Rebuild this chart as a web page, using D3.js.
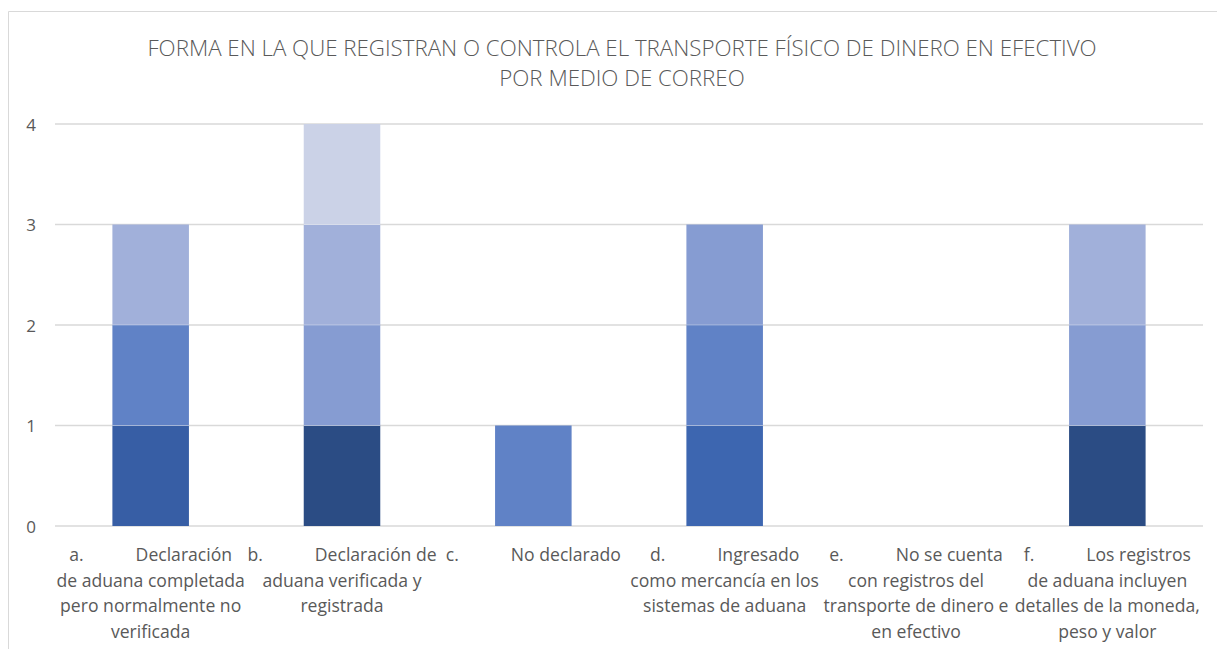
<!DOCTYPE html>
<html>
<head>
<meta charset="utf-8">
<script src="https://cdn.jsdelivr.net/npm/d3@7"></script>
<style>
html,body{margin:0;padding:0;background:#fff;}
svg{display:block;}
text{font-family:"Open Sans","Noto Sans",sans-serif;fill:#595959;}
</style>
</head>
<body>
<svg id="chart" width="1217" height="649"></svg>
<script>
const titleLines = ["FORMA EN LA QUE REGISTRAN O CONTROLA EL TRANSPORTE FÍSICO DE DINERO EN EFECTIVO", "POR MEDIO DE CORREO"];
const categories = ["a", "b", "c", "d", "e", "f"];
const categoryPrefixes = ["a.", "b.", "c.", "d.", "e.", "f."];
const categoryLines = [
  ["Declaración", "de aduana completada", "pero normalmente no", "verificada"],
  ["Declaración de", "aduana verificada y", "registrada"],
  ["No declarado"],
  ["Ingresado", "como mercancía en los", "sistemas de aduana"],
  ["No se cuenta", "con registros del", "transporte de dinero e", "en efectivo"],
  ["Los registros", "de aduana incluyen", "detalles de la moneda,", "peso y valor"]
];
const seriesNames = ["S1", "S2", "S3", "S4", "S5", "S6", "S7"];
const seriesColors = ["#2B4C84", "#375EA5", "#3D66B0", "#6082C6", "#869CD2", "#A1B0DA", "#CBD2E7"];
const s1 = [0, 1, 0, 0, 0, 1];
const s2 = [1, 0, 0, 0, 0, 0];
const s3 = [0, 0, 0, 1, 0, 0];
const s4 = [1, 0, 1, 1, 0, 0];
const s5 = [0, 1, 0, 1, 0, 1];
const s6 = [1, 1, 0, 0, 0, 1];
const s7 = [0, 1, 0, 0, 0, 0];
const seriesValues = [s1, s2, s3, s4, s5, s6, s7];
const yTicks = [0, 1, 2, 3, 4];

const svg = d3.select("#chart");
const W = 1217, H = 649;
const plot = {left: 55, right: 1203, top: 124, bottom: 526};

// chart border
svg.append("path")
  .attr("d", `M8.5,${H} V11.5 H${W}`)
  .attr("fill", "none").attr("stroke", "#D9D9D9").attr("stroke-width", 1);

// title
svg.append("g").selectAll("text").data(titleLines).join("text")
  .attr("x", 622).attr("y", (d, i) => 56 + i * 30)
  .attr("text-anchor", "middle")
  .style("font-size", "22.3px")
  .style("font-weight", 300)
  .text(d => d);

const x = d3.scaleBand().domain(categories).range([plot.left, plot.right]).paddingInner(0.6).paddingOuter(0.3);
const y = d3.scaleLinear().domain([0, 4]).range([plot.bottom, plot.top]);

// gridlines
svg.append("g").selectAll("line").data(yTicks).join("line")
  .attr("x1", plot.left).attr("x2", plot.right)
  .attr("y1", d => y(d)).attr("y2", d => y(d))
  .attr("stroke", "#D9D9D9").attr("stroke-width", 1.5);

// y axis labels
const yAxis = d3.axisLeft(y).tickValues(yTicks).tickSize(0).tickPadding(0).tickFormat(d3.format("d"));
const ya = svg.append("g").attr("transform", `translate(36,0)`).call(yAxis);
ya.select(".domain").remove();
ya.selectAll("text").style("font-size", "17px").style("font-family", '"Open Sans","Noto Sans",sans-serif').attr("fill", "#595959").attr("dy", "0.36em");

// stacked data
const table = categories.map((c, i) => {
  const o = {cat: c};
  seriesNames.forEach((s, j) => o[s] = seriesValues[j][i]);
  return o;
});
const stack = d3.stack().keys(seriesNames)(table);

svg.append("g").selectAll("g").data(stack).join("g")
  .attr("fill", (d, i) => seriesColors[i])
  .selectAll("rect").data(d => d.filter(p => p[1] - p[0] > 0)).join("rect")
  .attr("x", d => x(d.data.cat))
  .attr("width", x.bandwidth())
  .attr("y", d => y(d[1]))
  .attr("height", d => y(d[0]) - y(d[1]));

// thin separators like Excel
svg.append("g").selectAll("g").data(stack).join("g")
  .selectAll("line").data(d => d.filter(p => p[1] - p[0] > 0 && p[0] > 0)).join("line")
  .attr("x1", d => x(d.data.cat)).attr("x2", d => x(d.data.cat) + x.bandwidth())
  .attr("y1", d => y(d[0])).attr("y2", d => y(d[0]))
  .attr("stroke", "#ffffff").attr("stroke-opacity", 0.35).attr("stroke-width", 1);

// category labels
const labelSize = 17.6, lineH = 25.7, firstY = 561, gap = 52;
const lg = svg.append("g").style("font-size", labelSize + "px");
categories.forEach((c, i) => {
  const cx = x(c) + x.bandwidth() / 2;
  const lines = categoryLines[i];
  const p = lg.append("text").attr("y", firstY).text(categoryPrefixes[i]);
  const w1 = lg.append("text").attr("y", firstY).text(lines[0]);
  const pw = p.node().getComputedTextLength();
  const ww = w1.node().getComputedTextLength();
  const total = pw + gap + ww;
  const start = cx - total / 2;
  p.attr("x", start);
  w1.attr("x", start + pw + gap);
  lines.slice(1).forEach((ln, k) => {
    lg.append("text").attr("x", cx).attr("y", firstY + (k + 1) * lineH)
      .attr("text-anchor", "middle").text(ln);
  });
});
</script>
</body>
</html>
